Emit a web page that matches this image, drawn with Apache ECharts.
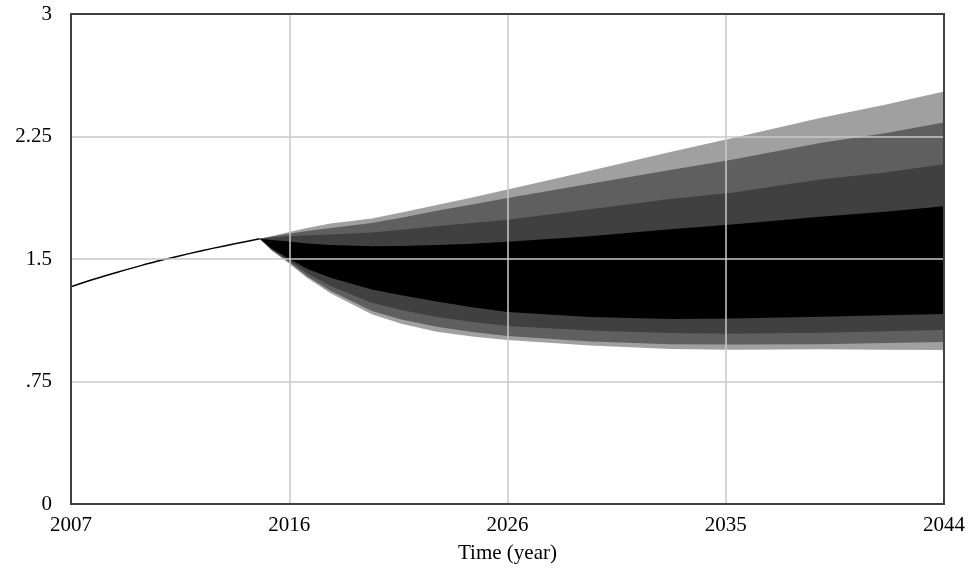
<!DOCTYPE html>
<html>
<head>
<meta charset="utf-8">
<script src="https://cdn.jsdelivr.net/npm/echarts@6/dist/echarts.min.js"></script>
<style>
  html, body { margin: 0; padding: 0; background: #fff; }
  #chart { width: 971px; height: 569px; }
</style>
</head>
<body>
<div id="chart"></div>
<script>
// history run (single line) up to the start of the sensitivity runs
const historyYears = [2007, 2008, 2009, 2010, 2011, 2012, 2013, 2014, 2015]
const historyValues = [1.33, 1.377, 1.42, 1.461, 1.498, 1.533, 1.565, 1.595, 1.624]

// sensitivity bounds
const bandYears = [2015, 2015.5, 2016.25, 2017, 2018, 2019.75, 2021, 2022.5, 2024, 2025.5, 2029, 2032.4, 2035, 2038.75, 2041.5, 2044]
const upper100 = [1.624, 1.64, 1.666, 1.69, 1.717, 1.748, 1.785, 1.83, 1.877, 1.925, 2.04, 2.155, 2.24, 2.363, 2.445, 2.525]
const upper95 = [1.624, 1.638, 1.655, 1.672, 1.69, 1.72, 1.753, 1.795, 1.834, 1.874, 1.96, 2.045, 2.108, 2.21, 2.27, 2.336]
const upper75 = [1.624, 1.632, 1.64, 1.645, 1.65, 1.662, 1.679, 1.7, 1.72, 1.741, 1.805, 1.868, 1.905, 1.986, 2.03, 2.08]
const upper50 = [1.624, 1.617, 1.607, 1.595, 1.585, 1.578, 1.58, 1.585, 1.594, 1.605, 1.64, 1.682, 1.711, 1.758, 1.79, 1.823]
const lower50 = [1.624, 1.565, 1.5, 1.44, 1.385, 1.314, 1.278, 1.24, 1.205, 1.175, 1.145, 1.132, 1.135, 1.147, 1.155, 1.163]
const lower75 = [1.624, 1.56, 1.487, 1.412, 1.335, 1.232, 1.188, 1.145, 1.115, 1.09, 1.062, 1.047, 1.042, 1.049, 1.058, 1.065]
const lower95 = [1.624, 1.555, 1.479, 1.395, 1.305, 1.181, 1.13, 1.085, 1.053, 1.028, 0.995, 0.978, 0.977, 0.978, 0.985, 0.992]
const lower100 = [1.624, 1.552, 1.472, 1.385, 1.29, 1.161, 1.103, 1.055, 1.026, 1.004, 0.97, 0.949, 0.945, 0.947, 0.945, 0.943]

const startYear = 2007
const endYear = 2044
const xTickLabels = ['2007', '2016', '2026', '2035', '2044']
const yTickLabels = ['0', '.75', '1.5', '2.25', '3']

const xStep = (endYear - startYear) / (xTickLabels.length - 1)
const yStep = 3 / (yTickLabels.length - 1)
const font = 'Liberation Serif'

// outer levels first so the inner ones paint over them
const levels = [
  [lower100, upper100, '#a0a0a0'],
  [lower95, upper95, '#5f5f5f'],
  [lower75, upper75, '#404040'],
  [lower50, upper50, '#000000']
]

const bandSeries = levels.map(([lo, hi, color]) => ({
  type: 'custom',
  silent: true,
  clip: true,
  data: bandYears.map((y, i) => [y - startYear, lo[i], hi[i]]),
  encode: { x: 0, y: [1, 2] },
  renderItem: (params, api) => {
    // draw the whole band once, on the first item
    if (params.dataIndex !== 0) return
    const top = bandYears.map((y, i) => api.coord([y - startYear, hi[i]]))
    const bottom = bandYears.map((y, i) => api.coord([y - startYear, lo[i]])).reverse()
    return {
      type: 'polygon',
      shape: { points: top.concat(bottom) },
      style: { fill: color, stroke: null }
    }
  }
}))

const chart = echarts.init(document.getElementById('chart'))
chart.setOption({
  animation: false,
  grid: {
    left: 71, right: 27, top: 14, bottom: 64,
    show: true, borderColor: '#404040', borderWidth: 2, z: 12
  },
  xAxis: {
    type: 'value',
    min: 0,
    max: endYear - startYear,
    interval: xStep,
    z: 10,
    name: 'Time (year)',
    nameLocation: 'middle',
    nameGap: 39,
    nameTextStyle: { color: '#000', fontFamily: font, fontSize: 21 },
    axisLine: { show: false },
    axisTick: { show: false },
    axisLabel: {
      color: '#000', fontFamily: font, fontSize: 21, margin: 11,
      formatter: (v) => xTickLabels[Math.round(v / xStep)]
    },
    splitLine: { lineStyle: { color: '#c8c8c8', width: 1.5 } }
  },
  yAxis: {
    type: 'value',
    min: 0,
    max: 3,
    interval: yStep,
    z: 10,
    axisLine: { show: false },
    axisTick: { show: false },
    axisLabel: {
      color: '#000', fontFamily: font, fontSize: 21, margin: 19,
      formatter: (v) => yTickLabels[Math.round(v / yStep)]
    },
    splitLine: { lineStyle: { color: '#c8c8c8', width: 1.5 } }
  },
  series: [
    ...bandSeries,
    {
      type: 'line',
      data: historyYears.map((y, i) => [y - startYear, historyValues[i]]),
      showSymbol: false,
      silent: true,
      smooth: 0.3,
      lineStyle: { color: '#000', width: 1.5 }
    }
  ]
})
</script>
</body>
</html>
